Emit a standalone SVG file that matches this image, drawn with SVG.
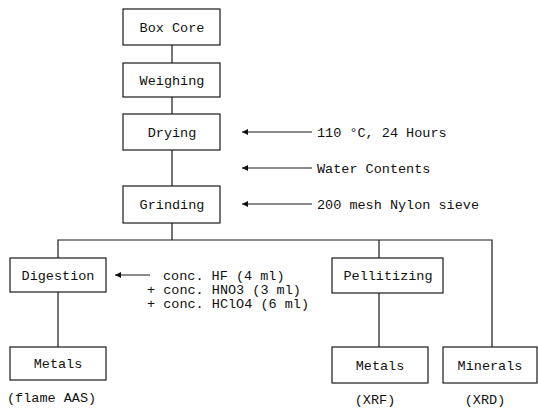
<svg xmlns="http://www.w3.org/2000/svg" width="538" height="409" viewBox="0 0 538 409">
<defs>
<style>
.box{fill:#fff;stroke:#1a1a1a;stroke-width:1.2}
.ln{fill:none;stroke:#1a1a1a;stroke-width:1.2}
.t{font-family:"Liberation Mono","DejaVu Sans Mono",monospace;font-size:13.5px;fill:#111}
.c{text-anchor:middle}
</style>
<marker id="ah" viewBox="0 0 10 10" refX="0" refY="5" markerWidth="8" markerHeight="6" markerUnits="userSpaceOnUse" orient="auto">
<path d="M0,5 L10,0 L10,10 Z" fill="#111"/>
</marker>
</defs>
<rect width="538" height="409" fill="#fff"/>
<g id="connectors">
<path class="ln" d="M172,45V63M172,97V114M172,150V186M172,223V240"/>
<path class="ln" d="M58,258V240H492V347M379,240V258M58,292V347M379,293V347"/>
<path class="ln" d="M242,132H312" marker-start="url(#ah)"/>
<path class="ln" d="M242,168H312" marker-start="url(#ah)"/>
<path class="ln" d="M242,204H312" marker-start="url(#ah)"/>
<path class="ln" d="M115,275H150" marker-start="url(#ah)"/>
</g>
<g id="boxcore"><rect class="box" x="123" y="9" width="97" height="36"/><text class="t c" x="172" y="32">Box Core</text></g>
<g id="weighing"><rect class="box" x="123" y="63" width="97" height="34"/><text class="t c" x="172" y="85">Weighing</text></g>
<g id="drying"><rect class="box" x="123" y="114" width="97" height="36"/><text class="t c" x="172" y="137">Drying</text></g>
<g id="grinding"><rect class="box" x="123" y="186" width="97" height="37"/><text class="t c" x="172" y="209">Grinding</text></g>
<g id="digestion"><rect class="box" x="10" y="258" width="96" height="34"/><text class="t c" x="58" y="280">Digestion</text></g>
<g id="metals-aas"><rect class="box" x="10" y="347" width="96" height="33"/><text class="t c" x="58" y="368">Metals</text><text class="t" x="7" y="402">(flame AAS)</text></g>
<g id="pellitizing"><rect class="box" x="332" y="258" width="111" height="35"/><text class="t c" x="388" y="280">Pellitizing</text></g>
<g id="metals-xrf"><rect class="box" x="332" y="347" width="96" height="36"/><text class="t c" x="380" y="370">Metals</text><text class="t c" x="375" y="404">(XRF)</text></g>
<g id="minerals"><rect class="box" x="443" y="347" width="94" height="36"/><text class="t c" x="490" y="370">Minerals</text><text class="t c" x="485" y="404">(XRD)</text></g>
<g id="labels">
<text class="t" x="317" y="137">110 °C, 24 Hours</text>
<text class="t" x="317" y="173">Water Contents</text>
<text class="t" x="317" y="209">200 mesh Nylon sieve</text>
<text class="t" x="163" y="280">conc. HF (4 ml)</text>
<text class="t" x="147" y="294">+ conc. HNO3 (3 ml)</text>
<text class="t" x="147" y="308">+ conc. HClO4 (6 ml)</text>
</g>
</svg>
